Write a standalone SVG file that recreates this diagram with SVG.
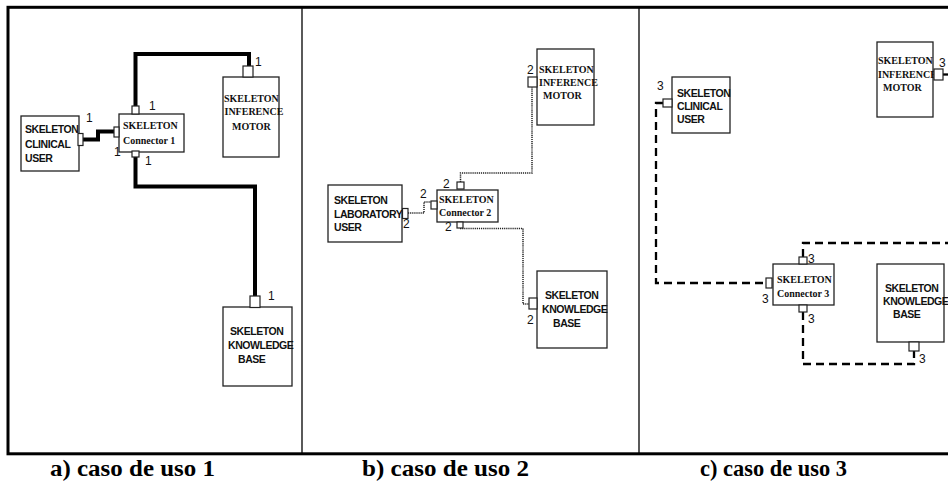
<svg xmlns="http://www.w3.org/2000/svg" width="948" height="489" viewBox="0 0 948 489">
  <style>
    .frame { fill: none; stroke: #000; stroke-width: 3; }
    .div { stroke: #000; stroke-width: 1.3; }
    .box { fill: #fff; stroke: #222; stroke-width: 1.3; }
    .port { fill: #fff; stroke: #222; stroke-width: 1.2; }
    .sans { font-family: "Liberation Sans", Arial, sans-serif; font-weight: bold; font-size: 10.5px; letter-spacing: -0.45px; fill: #111; }
    .serif { font-family: "Liberation Serif", "Times New Roman", serif; font-weight: bold; font-size: 10px; fill: #111; }
    .num { font-family: "Liberation Sans", Arial, sans-serif; font-size: 12px; fill: #111; }
    .cap { font-family: "Liberation Serif", "Times New Roman", serif; font-weight: bold; font-size: 23px; fill: #000; }
    .thick { fill: none; stroke: #000; stroke-width: 4; }
    .dot { fill: none; stroke: #222; stroke-width: 1.5; stroke-dasharray: 1.2 0.9; }
    .dash { fill: none; stroke: #000; stroke-width: 2.3; stroke-dasharray: 8 5; }
  </style>

  <!-- outer frame and panel dividers -->
  <rect class="frame" x="8" y="7.3" width="945" height="446.5"/>
  <line class="div" x1="302" y1="7" x2="302" y2="454"/>
  <line class="div" x1="639" y1="7" x2="639" y2="454"/>

  <!-- connectors -->
  <g id="connectors">
    <!-- case 1: thick -->
    <path class="thick" d="M83,139.5 H98 V131.5 H114"/>
    <path class="thick" d="M135.5,106 V54 H249 V66"/>
    <path class="thick" d="M135.5,157 V186.5 H255 V296"/>
    <!-- case 2: dotted -->
    <path class="dot" d="M408,213 H424 V202 H431"/>
    <path class="dot" d="M460.5,182 V173 H532 V87"/>
    <path class="dot" d="M460,228.5 H523 V304 H529"/>
    <!-- case 3: dashed -->
    <path class="dash" d="M663,103 H656 V283 H766"/>
    <path class="dash" d="M803,257 V243 H948"/>
    <path class="dash" d="M803,312 V364 H914 V351"/>
    <path class="dash" d="M943,74.5 H948"/>
  </g>

  <!-- case 1 -->
  <g id="a-clinical-user">
    <rect class="box" x="21" y="116" width="58" height="55"/>
    <text class="sans" x="25" y="133">SKELETON</text>
    <text class="sans" x="25" y="148">CLINICAL</text>
    <text class="sans" x="25" y="162">USER</text>
    <rect class="port" x="78" y="133.5" width="5" height="12"/>
    <text class="num" x="86" y="122">1</text>
  </g>
  <g id="a-connector">
    <rect class="box" x="119" y="114" width="65" height="38"/>
    <text class="serif" x="123" y="129">SKELETON</text>
    <text class="serif" x="123" y="144">Connector 1</text>
    <rect class="port" x="114" y="127" width="5" height="10"/>
    <rect class="port" x="132" y="106" width="7" height="8"/>
    <rect class="port" x="132" y="151" width="7" height="6"/>
    <text class="num" x="149" y="110">1</text>
    <text class="num" x="114" y="156">1</text>
    <text class="num" x="145" y="165">1</text>
  </g>
  <g id="a-inference-motor">
    <rect class="box" x="223" y="77" width="56" height="80"/>
    <text class="serif" x="224" y="102">SKELETON</text>
    <text class="serif" x="224.5" y="115">INFERENCE</text>
    <text class="serif" x="232" y="129.5">MOTOR</text>
    <rect class="port" x="243" y="66" width="10" height="11"/>
    <text class="num" x="255" y="66">1</text>
  </g>
  <g id="a-knowledge-base">
    <rect class="box" x="223" y="307" width="69" height="79"/>
    <text class="sans" x="230" y="335">SKELETON</text>
    <text class="sans" x="228" y="349">KNOWLEDGE</text>
    <text class="sans" x="238" y="363">BASE</text>
    <rect class="port" x="250" y="296" width="10" height="11.5"/>
    <text class="num" x="268" y="300">1</text>
  </g>

  <!-- case 2 -->
  <g id="b-laboratory-user">
    <rect class="box" x="328" y="185" width="74" height="57"/>
    <text class="sans" x="334" y="204">SKELETON</text>
    <text class="sans" x="334" y="217.5">LABORATORY</text>
    <text class="sans" x="334" y="231">USER</text>
    <rect class="port" x="402.5" y="208.5" width="5.5" height="10"/>
    <text class="num" x="403" y="228">2</text>
  </g>
  <g id="b-connector">
    <rect class="box" x="437" y="190" width="61" height="32"/>
    <text class="serif" x="439" y="203">SKELETON</text>
    <text class="serif" x="439" y="216">Connector 2</text>
    <rect class="port" x="431" y="201" width="6" height="8"/>
    <rect class="port" x="457" y="182" width="7" height="7"/>
    <rect class="port" x="457" y="222" width="6" height="6"/>
    <text class="num" x="443" y="188">2</text>
    <text class="num" x="420" y="198">2</text>
    <text class="num" x="445" y="231">2</text>
  </g>
  <g id="b-inference-motor">
    <rect class="box" x="537" y="49" width="57" height="76"/>
    <text class="serif" x="539" y="73">SKELETON</text>
    <text class="serif" x="539" y="86">INFERENCE</text>
    <text class="serif" x="543" y="99">MOTOR</text>
    <rect class="port" x="528" y="77" width="9" height="10"/>
    <text class="num" x="527" y="74">2</text>
  </g>
  <g id="b-knowledge-base">
    <rect class="box" x="537" y="271" width="70" height="77"/>
    <text class="sans" x="545" y="299">SKELETON</text>
    <text class="sans" x="542" y="313">KNOWLEDGE</text>
    <text class="sans" x="553" y="327">BASE</text>
    <rect class="port" x="529" y="298" width="8" height="11"/>
    <text class="num" x="527" y="324">2</text>
  </g>

  <!-- case 3 -->
  <g id="c-clinical-user">
    <rect class="box" x="672" y="77" width="58" height="56"/>
    <text class="sans" x="677" y="97">SKELETON</text>
    <text class="sans" x="677" y="110">CLINICAL</text>
    <text class="sans" x="677" y="123">USER</text>
    <rect class="port" x="663" y="99" width="9" height="8"/>
    <text class="num" x="657" y="90">3</text>
  </g>
  <g id="c-connector">
    <rect class="box" x="773" y="264" width="61" height="41"/>
    <text class="serif" x="777" y="283">SKELETON</text>
    <text class="serif" x="777" y="297">Connector 3</text>
    <rect class="port" x="766" y="278" width="6" height="10"/>
    <rect class="port" x="799" y="257" width="8" height="7"/>
    <rect class="port" x="799" y="305" width="8" height="7"/>
    <text class="num" x="808" y="263">3</text>
    <text class="num" x="762" y="303">3</text>
    <text class="num" x="808" y="323">3</text>
  </g>
  <g id="c-inference-motor">
    <rect class="box" x="877" y="42" width="56" height="75"/>
    <text class="serif" x="878" y="64">SKELETON</text>
    <text class="serif" x="878" y="78">INFERENCE</text>
    <text class="serif" x="883" y="91">MOTOR</text>
    <rect class="port" x="934" y="69" width="9" height="11"/>
    <text class="num" x="939" y="67">3</text>
  </g>
  <g id="c-knowledge-base">
    <rect class="box" x="877" y="264" width="67" height="78"/>
    <text class="sans" x="885" y="292">SKELETON</text>
    <text class="sans" x="883" y="305">KNOWLEDGE</text>
    <text class="sans" x="893" y="318">BASE</text>
    <rect class="port" x="909" y="342" width="10" height="9"/>
    <text class="num" x="919" y="363">3</text>
  </g>

  <!-- captions -->
  <text class="cap" x="50" y="476" textLength="165" lengthAdjust="spacingAndGlyphs">a) caso de uso 1</text>
  <text class="cap" x="362" y="476" textLength="167" lengthAdjust="spacingAndGlyphs">b) caso de uso 2</text>
  <text class="cap" x="700" y="476" textLength="147" lengthAdjust="spacingAndGlyphs">c) caso de uso 3</text>
</svg>
